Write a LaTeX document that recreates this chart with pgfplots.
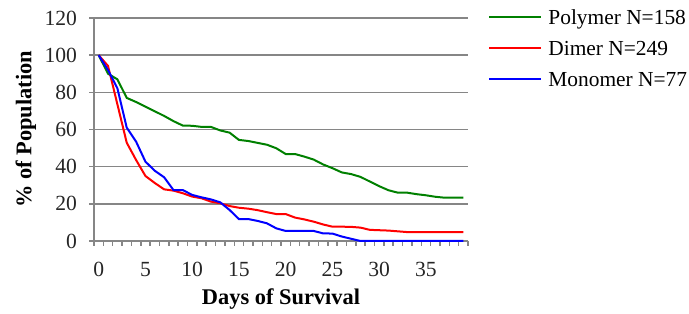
\documentclass[border=0pt]{standalone}
\usepackage{fontspec}
\setmainfont{Liberation Serif}
\usepackage{pgfplots}
\pgfplotsset{compat=1.18}
\definecolor{gridgray}{RGB}{134,134,134}
\definecolor{pgreen}{RGB}{0,128,0}
\definecolor{pred}{RGB}{255,0,0}
\definecolor{pblue}{RGB}{0,0,255}
\begin{document}
\begin{tikzpicture}
\path[use as bounding box] (0,0) rectangle (344.5pt,157pt);
\begin{axis}[
  at={(47pt,36.5pt)}, anchor=south west,
  scale only axis, width=187pt, height=111.5pt,
  xmin=-0.5, xmax=39.5, ymin=0, ymax=120,
  axis x line=bottom, axis y line=left,
  x axis line style={-, gridgray, line width=0.75pt},
  y axis line style={-, gridgray, line width=0.75pt},
  xtick={0,5,...,35},
  minor xtick={-0.5,0.5,...,39.5},
  ytick={0,20,...,120},
  tick align=outside,
  major tick length=2.5pt, minor tick length=2.5pt,
  major x tick style={draw=none},
  minor x tick style={gridgray, line width=0.75pt},
  major y tick style={gridgray, line width=0.75pt},
  ymajorgrids, grid style={gridgray, line width=0.75pt},
  /pgf/number format/assume math mode=true,
  tick label style={font=\fontsize{10.8}{12}\selectfont, text=black!85},
  yticklabel style={xshift=-2.5pt},
  xticklabel style={yshift=-4.5pt},
  xlabel={\textbf{Days of Survival}},
  ylabel={\textbf{\% of Population}},
  label style={font=\fontsize{11.2}{13}\selectfont},
  xlabel style={at={(axis description cs:0.5,-0.287)}, anchor=base},
  ylabel style={at={(axis description cs:-0.182,0.5)}, anchor=center, rotate=0},
  clip=false,
  legend style={at={(axis description cs:1.0535,1.0448)}, anchor=north west,
    draw=none, fill=none, inner sep=0pt, row sep=0pt,
    font=\fontsize{10.7}{13}\selectfont,
    nodes={inner sep=0pt, text height=8pt, text depth=7.5pt},
    /tikz/every odd column/.append style={column sep=3pt}},
  legend cell align=left,
  legend image code/.code={\draw[#1] (0pt,3.5pt) -- (26pt,3.5pt);},
  every axis plot/.append style={line width=1pt},
]
\addplot[pgreen] coordinates {
(0,100) (1,90) (2,87) (3,77) (4,74.8) (5,72.3) (6,69.8) (7,67.3) (8,64.5) (9,62.1)
(10,62) (11,61.4) (12,61.4) (13,59.5) (14,58.3) (15,54.4) (16,53.8) (17,52.8) (18,51.8) (19,49.9)
(20,46.8) (21,46.8) (22,45.4) (23,43.8) (24,41.2) (25,39.2) (26,36.9) (27,36) (28,34.5) (29,32)
(30,29.5) (31,27.3) (32,26) (33,26) (34,25.2) (35,24.6) (36,23.8) (37,23.3) (38,23.3) (39,23.3)};
\addlegendentry{Polymer N=158}
\addplot[pred] coordinates {
(0,100) (1,94.2) (2,73.6) (3,52.9) (4,43.6) (5,35) (6,31.2) (7,27.8) (8,27.1) (9,25.7)
(10,23.9) (11,23) (12,21.2) (13,20.3) (14,18.8) (15,17.9) (16,17.4) (17,16.6) (18,15.5) (19,14.5)
(20,14.5) (21,12.6) (22,11.6) (23,10.4) (24,8.9) (25,7.7) (26,7.7) (27,7.6) (28,7.2) (29,6)
(30,5.8) (31,5.6) (32,5.2) (33,4.8) (34,4.8) (35,4.8) (36,4.8) (37,4.8) (38,4.8) (39,4.8)};
\addlegendentry{Dimer N=249}
\addplot[pblue] coordinates {
(0,100) (1,92) (2,82.2) (3,61) (4,53.5) (5,42.7) (6,37.8) (7,34.3) (8,27.4) (9,27.4)
(10,24.8) (11,23.5) (12,22.4) (13,20.8) (14,16.7) (15,11.8) (16,11.8) (17,10.8) (18,9.5) (19,6.8)
(20,5.4) (21,5.4) (22,5.4) (23,5.4) (24,4.1) (25,4) (26,2.4) (27,1.2) (28,0) (29,0)
(30,0) (31,0) (32,0) (33,0) (34,0) (35,0) (36,0) (37,0) (38,0) (39,0)};
\addlegendentry{Monomer N=77}
\end{axis}
\end{tikzpicture}
\end{document}
